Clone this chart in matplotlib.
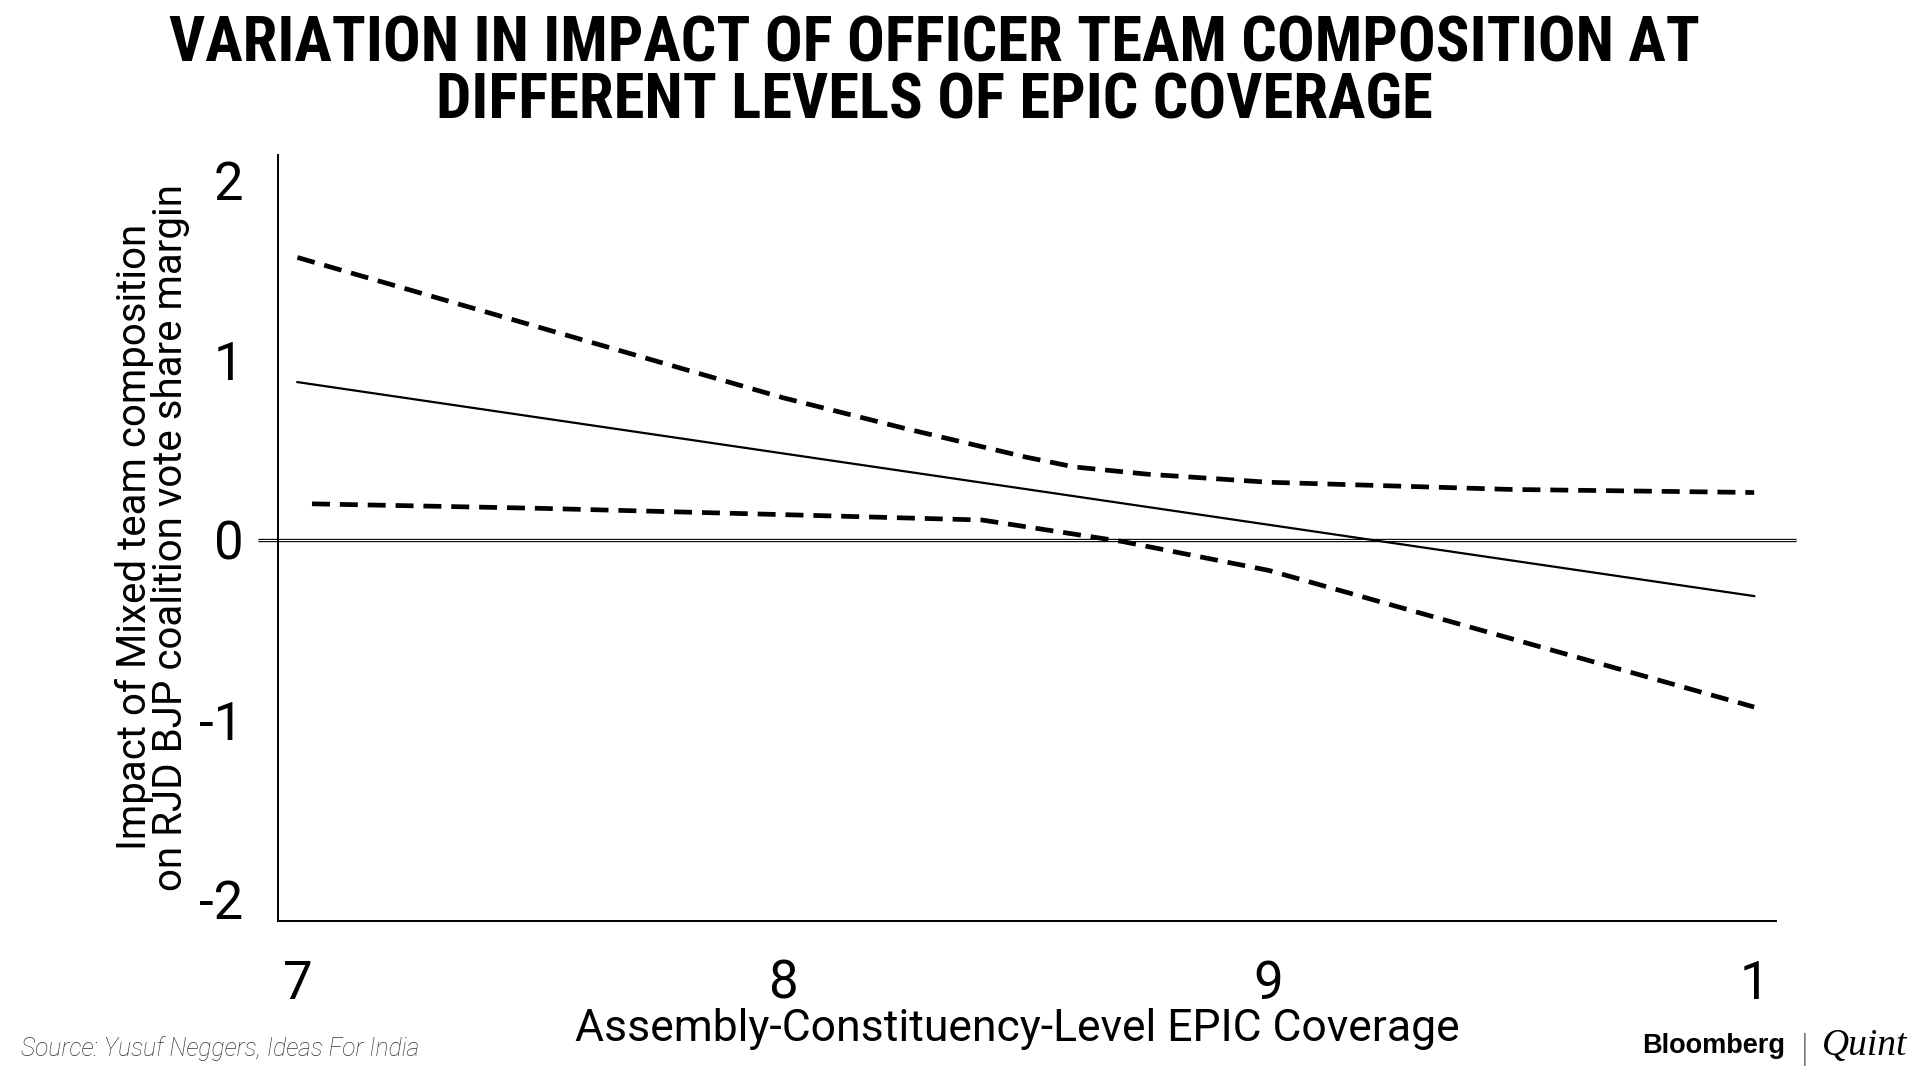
import numpy as np
import matplotlib
matplotlib.use("Agg")
import matplotlib.pyplot as plt
from matplotlib import font_manager

# EPIC coverage (x) and estimated marginal effect with its confidence band
coverage = [7.0, 10.0]
effect = [0.877, -0.313]

upper_x = [7.0, 7.5, 8.0, 8.25, 8.5, 8.6, 8.75, 9.0, 9.5, 10.0]
upper_y = [1.57, 1.18, 0.79, 0.62, 0.46, 0.405, 0.365, 0.32, 0.28, 0.263]

lower_x = [7.03, 7.5, 8.0, 8.41, 8.7, 9.0, 10.0]
lower_y = [0.20, 0.175, 0.14, 0.11, -0.01, -0.17, -0.93]

xticks = [7, 8, 9, 10]
xtick_labels = ["7", "8", "9", "1"]
yticks = [-2, -1, 0, 1, 2]
ytick_labels = ["-2", "-1", "0", "1", "2"]

title = "VARIATION IN IMPACT OF OFFICER TEAM COMPOSITION AT\nDIFFERENT LEVELS OF EPIC COVERAGE"
xlabel = "Assembly-Constituency-Level EPIC Coverage"
ylabel = "Impact of Mixed team composition\non RJD BJP coalition vote share margin"
source = "Source: Yusuf Neggers, Ideas For India"

plt.rcParams['font.family'] = ['Roboto', 'DejaVu Sans']

# pick a narrow bold face for the title if one is installed
names = {f.name for f in font_manager.fontManager.ttflist}
title_font = dict(family=["DejaVu Sans"], fontstretch="condensed")
for cand in ["Roboto Condensed", "Liberation Sans Narrow", "Open Sans Condensed"]:
    if cand in names:
        title_font = dict(family=[cand, "DejaVu Sans"])
        break

fig = plt.figure(figsize=(19.2, 10.8), dpi=100)
ax = fig.add_axes([0.1448, 0.1472, 0.7802, 0.7093])

ax.set_xlim(6.96, 10.045)
ax.set_ylim(-2.12, 2.14)

# zero reference line, drawn as a double rule
zt = ax.get_yaxis_transform()
ax.plot([-0.0134, 1.0134], [0, 0], transform=zt, color="black", lw=2.4,
        clip_on=False, solid_capstyle="butt", zorder=2)
ax.plot([-0.0134, 1.0134], [0, 0], transform=zt, color="white", lw=0.8,
        clip_on=False, solid_capstyle="butt", zorder=2)

ax.plot(coverage, effect, color="black", lw=1.6, zorder=3)
ax.plot(upper_x, upper_y, color="black", lw=3.4, dashes=(3.8, 2.1), zorder=3)
ax.plot(lower_x, lower_y, color="black", lw=3.4, dashes=(3.8, 2.1), zorder=3)

for s in ["top", "right"]:
    ax.spines[s].set_visible(False)
for s in ["left", "bottom"]:
    ax.spines[s].set_linewidth(1.4)
    ax.spines[s].set_color("black")

ax.set_xticks(xticks)
ax.set_xticklabels(xtick_labels)
ax.set_yticks(yticks)
ax.set_yticklabels(ytick_labels)
ax.tick_params(axis="both", length=0, labelsize=38, colors="black")
ax.tick_params(axis="x", pad=27)
ax.tick_params(axis="y", pad=25)

ax.text(-0.0835, 0.501, ylabel, transform=ax.transAxes, rotation=90,
        ha="center", va="center", fontsize=29, linespacing=0.9)
fig.text(0.5297, 1 - 1029 / 1080, xlabel, ha="center", va="center", fontsize=32)

t = fig.text(0.4865, 1 - 73 / 1080, title, ha="center", va="center", fontsize=40,
             fontweight="heavy", linespacing=0.95, **title_font)
# scale the title to the width it takes in the original
r = fig.canvas.get_renderer()
w = t.get_window_extent(renderer=r).width
t.set_fontsize(40 * 1525 / w)

fig.text(21 / 1920, 1 - 1049 / 1080, source, ha="left", va="center", fontsize=17.7,
         style="italic", fontweight="light", color="#333333")

fig.text(1642 / 1920, 1 - 1046 / 1080, "Bloomberg", ha="left", va="center",
         fontsize=19.5, fontweight="bold", family=["Liberation Sans", "DejaVu Sans"])
fig.text(1804 / 1920, 1 - 1050 / 1080, "|", ha="center", va="center",
         fontsize=28, fontweight="light", color="#222222")
fig.text(1822 / 1920, 1 - 1046 / 1080, "Quint", ha="left", va="center",
         fontsize=27, style="italic", family=["Liberation Serif", "DejaVu Serif"])

fig.savefig("out.png", dpi=100)
